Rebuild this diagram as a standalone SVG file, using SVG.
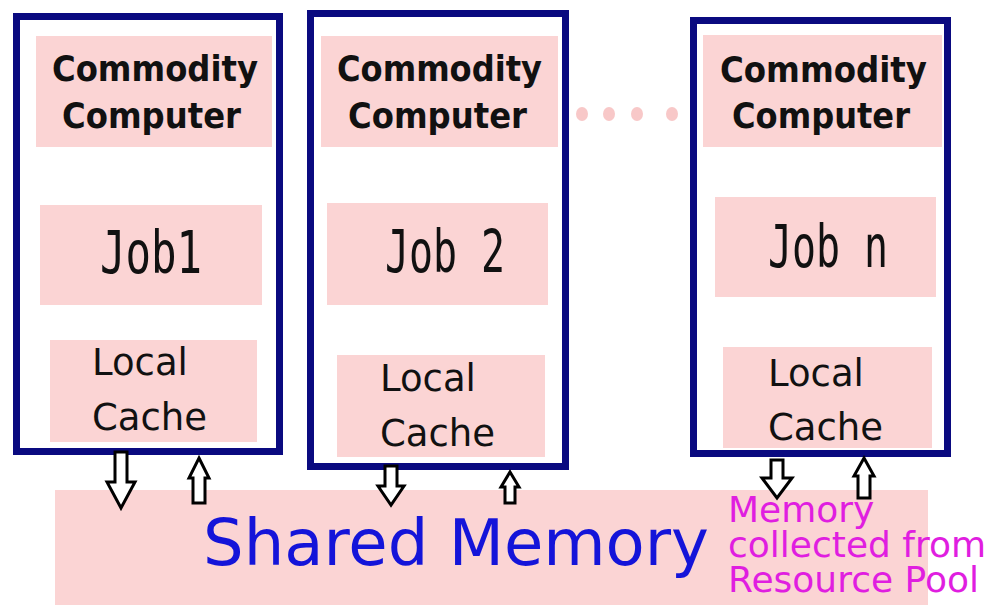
<svg xmlns="http://www.w3.org/2000/svg" width="995" height="605" viewBox="0 0 995 605">
<style>
.frame{fill:#ffffff;stroke:#0a0a80;stroke-width:7}
.pink{fill:#fbd4d4}
.title{font-family:"DejaVu Sans","Liberation Sans",sans-serif;font-weight:bold;font-size:36px;fill:#111}
.job{font-family:"DejaVu Sans Mono","Liberation Mono",monospace;font-size:58px;fill:#111}
.cache{font-family:"DejaVu Sans","Liberation Sans",sans-serif;font-size:37px;fill:#111}
.arrow{fill:#ffffff;stroke:#000;stroke-width:3;stroke-linejoin:miter}
.dot{fill:#f8c8c8}
</style>
<rect width="995" height="605" fill="#ffffff"/>
<g id="shared-memory">
<rect class="pink" x="55" y="490" width="873" height="115"/>
<text x="203" y="565" font-family="DejaVu Sans, Liberation Sans, sans-serif" font-size="64" fill="#1414d9">Shared Memory</text>
<text font-family="DejaVu Sans, Liberation Sans, sans-serif" font-size="36" fill="#e01ee0">
<tspan x="728" y="522">Memory</tspan>
<tspan x="728" y="557">collected from</tspan>
<tspan x="728" y="592">Resource Pool</tspan>
</text>
</g>
<g id="computer1">
<rect class="frame" x="16.5" y="16.5" width="263" height="435"/>
<rect class="pink" x="36" y="36" width="236" height="111"/>
<text class="title" x="52" y="81" textLength="206" lengthAdjust="spacingAndGlyphs">Commodity</text>
<text class="title" x="62" y="128" textLength="179" lengthAdjust="spacingAndGlyphs">Computer</text>
<rect class="pink" x="40" y="205" width="222" height="100"/>
<text class="job" x="100" y="273" textLength="102" lengthAdjust="spacingAndGlyphs">Job1</text>
<rect class="pink" x="50" y="340" width="207" height="102"/>
<text class="cache" x="92" y="375">Local</text>
<text class="cache" x="92" y="430">Cache</text>
</g>
<g id="computer2">
<rect class="frame" x="310.5" y="13.5" width="255" height="453"/>
<rect class="pink" x="321" y="36" width="237" height="111"/>
<text class="title" x="337" y="81" textLength="205" lengthAdjust="spacingAndGlyphs">Commodity</text>
<text class="title" x="348" y="128" textLength="179" lengthAdjust="spacingAndGlyphs">Computer</text>
<rect class="pink" x="327" y="203" width="221" height="102"/>
<text class="job" x="385" y="272" textLength="120" lengthAdjust="spacingAndGlyphs">Job 2</text>
<rect class="pink" x="337" y="355" width="208" height="102"/>
<text class="cache" x="380" y="391">Local</text>
<text class="cache" x="380" y="446">Cache</text>
</g>
<g id="ellipsis">
<ellipse class="dot" cx="582" cy="114" rx="6" ry="7"/>
<ellipse class="dot" cx="609" cy="114" rx="6" ry="7"/>
<ellipse class="dot" cx="637" cy="114" rx="6" ry="7"/>
<ellipse class="dot" cx="672" cy="114" rx="6" ry="7"/>
</g>
<g id="computerN">
<rect class="frame" x="693.5" y="20.5" width="254" height="433"/>
<rect class="pink" x="703" y="35" width="239" height="112"/>
<text class="title" x="720" y="82" textLength="207" lengthAdjust="spacingAndGlyphs">Commodity</text>
<text class="title" x="732" y="128" textLength="178" lengthAdjust="spacingAndGlyphs">Computer</text>
<rect class="pink" x="715" y="197" width="221" height="100"/>
<text class="job" x="768" y="267" textLength="120" lengthAdjust="spacingAndGlyphs">Job n</text>
<rect class="pink" x="723" y="347" width="209" height="101"/>
<text class="cache" x="768" y="386">Local</text>
<text class="cache" x="768" y="440">Cache</text>
</g>
<g id="connectors">
<path class="arrow" d="M115,452 H127 V482 H135 L121,508 L107,482 H115 Z"/>
<path class="arrow" d="M199,458 L209,478 H205 V503 H193 V478 H189 Z"/>
<path class="arrow" d="M385,466 H397 V486 H404 L391,505 L378,486 H385 Z"/>
<path class="arrow" d="M510,472 L519,487 H515 V503 H505 V487 H501 Z"/>
<path class="arrow" d="M771,460 H783 V478 H792 L777,498 L762,478 H771 Z"/>
<path class="arrow" d="M864,458 L874,476 H870 V498 H858 V476 H854 Z"/>
</g>
</svg>
